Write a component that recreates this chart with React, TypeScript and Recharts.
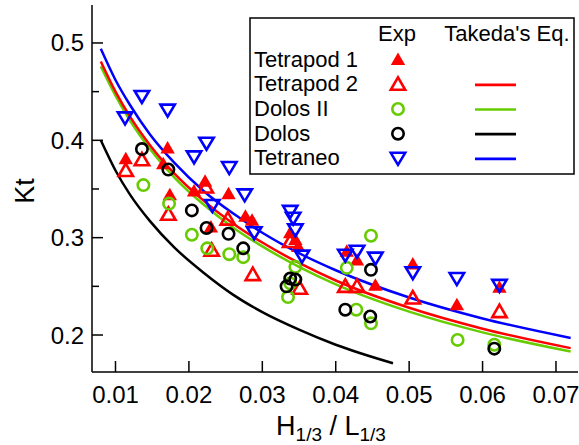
import React from 'react';
import { ComposedChart, XAxis, YAxis, Scatter, Line } from 'recharts';

const FONT = '"Liberation Sans", Arial, Helvetica, sans-serif';

const RED = '#ff0000';
const GREEN = '#66cc00';
const BLACK = '#000000';
const BLUE = '#0000ff';

const xTicks = [0.01, 0.02, 0.03, 0.04, 0.05, 0.06, 0.07];
const yTicks = [0.2, 0.25, 0.3, 0.35, 0.4, 0.45, 0.5];

// experiments (H1/3/L1/3, Kt)
const tetrapod1 = [
    { x: 0.0114, y: 0.381 }, { x: 0.0171, y: 0.392 }, { x: 0.0165, y: 0.376 },
    { x: 0.0222, y: 0.358 }, { x: 0.0207, y: 0.348 }, { x: 0.0254, y: 0.345 },
    { x: 0.0277, y: 0.322 }, { x: 0.0174, y: 0.344 }, { x: 0.023, y: 0.311 },
    { x: 0.0286, y: 0.318 }, { x: 0.0338, y: 0.305 }, { x: 0.0345, y: 0.298 },
    { x: 0.0349, y: 0.291 }, { x: 0.0415, y: 0.286 }, { x: 0.0429, y: 0.277 },
    { x: 0.0454, y: 0.251 }, { x: 0.0505, y: 0.273 }, { x: 0.0565, y: 0.231 },
    { x: 0.0623, y: 0.249 },
];

const tetrapod2 = [
    { x: 0.0114, y: 0.369 }, { x: 0.0136, y: 0.38 }, { x: 0.0172, y: 0.324 },
    { x: 0.0223, y: 0.352 }, { x: 0.0253, y: 0.319 }, { x: 0.0231, y: 0.287 },
    { x: 0.0287, y: 0.262 }, { x: 0.0338, y: 0.296 }, { x: 0.0351, y: 0.248 },
    { x: 0.0413, y: 0.25 }, { x: 0.0429, y: 0.25 }, { x: 0.0505, y: 0.238 },
    { x: 0.0623, y: 0.224 },
];

const dolosII = [
    { x: 0.0138, y: 0.354 }, { x: 0.0173, y: 0.335 }, { x: 0.0204, y: 0.303 },
    { x: 0.0225, y: 0.289 }, { x: 0.0255, y: 0.283 }, { x: 0.0274, y: 0.28 },
    { x: 0.0345, y: 0.27 }, { x: 0.0338, y: 0.253 }, { x: 0.0335, y: 0.239 },
    { x: 0.0415, y: 0.269 }, { x: 0.0428, y: 0.226 }, { x: 0.0448, y: 0.212 },
    { x: 0.0448, y: 0.302 }, { x: 0.0566, y: 0.195 }, { x: 0.0616, y: 0.19 },
];

const dolos = [
    { x: 0.0136, y: 0.391 }, { x: 0.0172, y: 0.37 }, { x: 0.0204, y: 0.328 },
    { x: 0.0224, y: 0.31 }, { x: 0.0254, y: 0.304 }, { x: 0.0274, y: 0.289 },
    { x: 0.0338, y: 0.258 }, { x: 0.0345, y: 0.257 }, { x: 0.0333, y: 0.25 },
    { x: 0.0413, y: 0.226 }, { x: 0.0447, y: 0.219 }, { x: 0.0448, y: 0.267 },
    { x: 0.0616, y: 0.186 },
];

const tetraneo = [
    { x: 0.0113, y: 0.423 }, { x: 0.0136, y: 0.445 }, { x: 0.0171, y: 0.431 },
    { x: 0.0224, y: 0.397 }, { x: 0.0207, y: 0.383 }, { x: 0.0255, y: 0.372 },
    { x: 0.0276, y: 0.344 }, { x: 0.0232, y: 0.333 }, { x: 0.0289, y: 0.305 },
    { x: 0.0338, y: 0.327 }, { x: 0.0342, y: 0.32 }, { x: 0.0345, y: 0.308 },
    { x: 0.0354, y: 0.281 }, { x: 0.0413, y: 0.282 }, { x: 0.0429, y: 0.286 },
    { x: 0.0454, y: 0.279 }, { x: 0.0505, y: 0.264 }, { x: 0.0565, y: 0.258 },
    { x: 0.0623, y: 0.251 },
];

// Takeda's equation
const eqTetrapod = [
    { x: 0.008, y: 0.481 }, { x: 0.01, y: 0.45 }, { x: 0.012, y: 0.424 },
    { x: 0.0147, y: 0.395 }, { x: 0.018, y: 0.366 }, { x: 0.022, y: 0.338 },
    { x: 0.026, y: 0.3145 }, { x: 0.03, y: 0.295 }, { x: 0.035, y: 0.274 },
    { x: 0.04, y: 0.256 }, { x: 0.05, y: 0.228 }, { x: 0.06, y: 0.2065 },
    { x: 0.072, y: 0.1865 },
];

const eqDolosII = [
    { x: 0.008, y: 0.476 }, { x: 0.01, y: 0.446 }, { x: 0.012, y: 0.42 },
    { x: 0.0147, y: 0.391 }, { x: 0.018, y: 0.362 }, { x: 0.022, y: 0.334 },
    { x: 0.026, y: 0.3105 }, { x: 0.03, y: 0.291 }, { x: 0.035, y: 0.27 },
    { x: 0.04, y: 0.252 }, { x: 0.05, y: 0.224 }, { x: 0.06, y: 0.2027 },
    { x: 0.072, y: 0.183 },
];

const eqDolos = [
    { x: 0.008, y: 0.4 }, { x: 0.01, y: 0.369 }, { x: 0.012, y: 0.344 },
    { x: 0.0147, y: 0.317 }, { x: 0.018, y: 0.29 }, { x: 0.022, y: 0.264 },
    { x: 0.026, y: 0.2415 }, { x: 0.03, y: 0.2235 }, { x: 0.035, y: 0.2055 },
    { x: 0.04, y: 0.19 }, { x: 0.0478, y: 0.171 },
];

const eqTetraneo = [
    { x: 0.008, y: 0.494 }, { x: 0.01, y: 0.462 }, { x: 0.012, y: 0.436 },
    { x: 0.0147, y: 0.406 }, { x: 0.018, y: 0.377 }, { x: 0.022, y: 0.348 },
    { x: 0.026, y: 0.325 }, { x: 0.03, y: 0.305 }, { x: 0.035, y: 0.284 },
    { x: 0.04, y: 0.2665 }, { x: 0.05, y: 0.2385 }, { x: 0.06, y: 0.217 },
    { x: 0.072, y: 0.197 },
];

const triUp = (cx: number, cy: number) =>
    `${cx},${cy - 7} ${cx - 7.2},${cy + 5.5} ${cx + 7.2},${cy + 5.5}`;
const triDown = (cx: number, cy: number) =>
    `${cx},${cy + 6.5} ${cx - 7.2},${cy - 5.5} ${cx + 7.2},${cy - 5.5}`;

const FilledUp = ({ cx, cy }: any) => <polygon points={triUp(cx, cy)} fill={RED} />;
const OpenUp = ({ cx, cy }: any) => (
    <polygon points={triUp(cx, cy)} fill="none" stroke={RED} strokeWidth={2.6} />
);
const OpenDown = ({ cx, cy }: any) => (
    <polygon points={triDown(cx, cy)} fill="none" stroke={BLUE} strokeWidth={2.6} />
);
const ring = (color: string) => ({ cx, cy }: any) => (
    <circle cx={cx} cy={cy} r={5.7} fill="none" stroke={color} strokeWidth={2.6} />
);

const BottomTick = ({ x, y, payload }: any) => (
    <g>
        <line x1={x} x2={x} y1={y} y2={y - 11} stroke="#000" strokeWidth={1.5} />
        <text x={x} y={y + 31} textAnchor="middle" fontSize={24} fontFamily={FONT} fill="#000">
            {payload.value.toFixed(2)}
        </text>
    </g>
);

const TopTick = ({ x, y }: any) => (
    <line x1={x} x2={x} y1={y} y2={y + 11} stroke="#000" strokeWidth={1.5} />
);

const isMajor = (v: number) => Math.abs(v * 10 - Math.round(v * 10)) < 1e-6;

const LeftTick = ({ x, y, payload }: any) => {
    const major = isMajor(payload.value);
    return (
        <g>
            <line x1={x} x2={x + (major ? 11 : 7)} y1={y} y2={y} stroke="#000" strokeWidth={1.5} />
            {major && (
                <text x={x - 8} y={y + 8.5} textAnchor="end" fontSize={24} fontFamily={FONT} fill="#000">
                    {payload.value.toFixed(1)}
                </text>
            )}
        </g>
    );
};

const RightTick = ({ x, y, payload }: any) => {
    const major = isMajor(payload.value);
    return <line x1={x} x2={x - (major ? 11 : 7)} y1={y} y2={y} stroke="#000" strokeWidth={1.5} />;
};

const legendRows = [
    { name: 'Tetrapod 1', marker: 'filledUp', line: null, base: 66.5 },
    { name: 'Tetrapod 2', marker: 'openUp', line: RED, base: 91.3 },
    { name: 'Dolos II', marker: 'ringGreen', line: GREEN, base: 116 },
    { name: 'Dolos', marker: 'ringBlack', line: BLACK, base: 140.7 },
    { name: 'Tetraneo', marker: 'openDown', line: BLUE, base: 165.3 },
];

const LegendMarker = ({ kind, cx, cy }: { kind: string; cx: number; cy: number }) => {
    if (kind === 'filledUp') return <FilledUp cx={cx} cy={cy} />;
    if (kind === 'openUp') return <OpenUp cx={cx} cy={cy} />;
    if (kind === 'ringGreen') return ring(GREEN)({ cx, cy });
    if (kind === 'ringBlack') return ring(BLACK)({ cx, cy });
    return <OpenDown cx={cx} cy={cy} />;
};

const Overlay = () => (
    <svg
        width={579}
        height={445}
        style={{ position: 'absolute', left: 0, top: 0, pointerEvents: 'none' }}
        fontFamily={FONT}
    >
        <rect x={250} y={18} width={324} height={156} fill="#fff" stroke="#000" strokeWidth={1.5} />
        <text x={397} y={41} textAnchor="middle" fontSize={22}>Exp</text>
        <text x={507} y={41} textAnchor="middle" fontSize={22}>Takeda's Eq.</text>
        {legendRows.map(r => (
            <g key={r.name}>
                <text x={254} y={r.base} fontSize={22}>{r.name}</text>
                <LegendMarker kind={r.marker} cx={398} cy={r.base - 7} />
                {r.line && (
                    <line x1={475} x2={516} y1={r.base - 6.5} y2={r.base - 6.5} stroke={r.line} strokeWidth={2.7} />
                )}
            </g>
        ))}
        <text
            x={0}
            y={0}
            transform="translate(34,191) rotate(-90)"
            textAnchor="middle"
            fontSize={27}
        >
            Kt
        </text>
        <text x={331} y={435} textAnchor="middle" fontSize={27}>
            H<tspan fontSize={19} dy={6}>1/3</tspan>
            <tspan dy={-6}> / L</tspan>
            <tspan fontSize={19} dy={6}>1/3</tspan>
        </text>
    </svg>
);

export default function App() {
    const axisLine = { stroke: '#000', strokeWidth: 1.5 };
    return (
        <div style={{ position: 'absolute', left: 0, top: 0, width: 579, height: 445, background: '#fff' }}>
            <ComposedChart width={579} height={445} margin={{ top: 5, right: 1, bottom: 0, left: 0 }}>
                <XAxis
                    xAxisId={0}
                    type="number"
                    dataKey="x"
                    domain={[0.0068, 0.073]}
                    ticks={xTicks}
                    allowDataOverflow
                    height={73}
                    tickSize={0}
                    tickMargin={0}
                    tickLine={false}
                    axisLine={axisLine}
                    tick={<BottomTick />}
                    interval={0}
                />
                <XAxis
                    xAxisId="top"
                    orientation="top"
                    type="number"
                    dataKey="x"
                    domain={[0.0068, 0.073]}
                    ticks={xTicks}
                    allowDataOverflow
                    height={0}
                    tickSize={0}
                    tickMargin={0}
                    tickLine={false}
                    axisLine={axisLine}
                    tick={<TopTick />}
                    interval={0}
                />
                <YAxis
                    yAxisId={0}
                    type="number"
                    dataKey="y"
                    domain={[0.162, 0.539]}
                    ticks={yTicks}
                    allowDataOverflow
                    width={92}
                    tickSize={0}
                    tickMargin={0}
                    tickLine={false}
                    axisLine={axisLine}
                    tick={<LeftTick />}
                    interval={0}
                />
                <YAxis
                    yAxisId="right"
                    orientation="right"
                    type="number"
                    dataKey="y"
                    domain={[0.162, 0.539]}
                    ticks={yTicks}
                    allowDataOverflow
                    width={0}
                    tickSize={0}
                    tickMargin={0}
                    tickLine={false}
                    axisLine={axisLine}
                    tick={<RightTick />}
                    interval={0}
                />

                <Scatter data={tetrapod1} dataKey="y" shape={<FilledUp />} isAnimationActive={false} />
                <Scatter data={tetrapod2} dataKey="y" shape={<OpenUp />} isAnimationActive={false} />
                <Scatter data={dolosII} dataKey="y" shape={ring(GREEN)} isAnimationActive={false} />
                <Scatter data={dolos} dataKey="y" shape={ring(BLACK)} isAnimationActive={false} />
                <Scatter data={tetraneo} dataKey="y" shape={<OpenDown />} isAnimationActive={false} />

                <Line data={eqDolos} dataKey="y" type="monotone" stroke={BLACK} strokeWidth={2.5} dot={false} isAnimationActive={false} />
                <Line data={eqDolosII} dataKey="y" type="monotone" stroke={GREEN} strokeWidth={2.5} dot={false} isAnimationActive={false} />
                <Line data={eqTetrapod} dataKey="y" type="monotone" stroke={RED} strokeWidth={2.5} dot={false} isAnimationActive={false} />
                <Line data={eqTetraneo} dataKey="y" type="monotone" stroke={BLUE} strokeWidth={2.5} dot={false} isAnimationActive={false} />
            </ComposedChart>
            <Overlay />
        </div>
    );
}
